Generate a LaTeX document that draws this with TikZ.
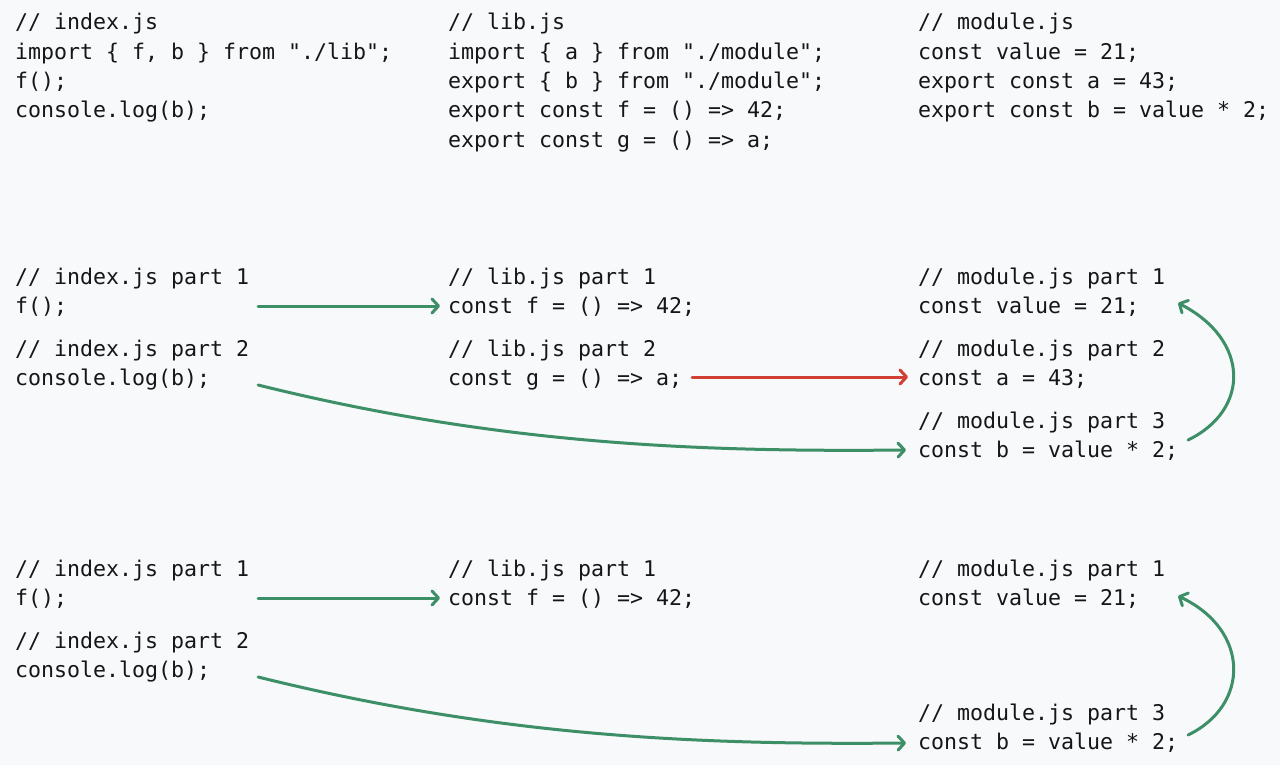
\documentclass[tikz,border=0pt]{standalone}
\usepackage{fontspec}
\setmonofont{DejaVu Sans Mono}
\usetikzlibrary{arrows.meta,calc}
\definecolor{bg}{HTML}{F8F9FB}
\definecolor{ink}{HTML}{161616}
\definecolor{grn}{HTML}{3D8F67}
\definecolor{rd}{HTML}{D23F35}
\begin{document}
\begin{tikzpicture}[x=1pt,y=-1pt,
  code/.style={anchor=base west,inner sep=0pt,outer sep=0pt,text=ink,font=\ttfamily\fontsize{21.6}{29}\selectfont},
  link/.style={line width=3pt,line cap=round,-{Straight Barb[length=6.5pt,width=14pt,round]}}]
\fill[bg] (0,0) rectangle (1280,765);
\useasboundingbox (0,0) rectangle (1280,765);
% row 1
\node[code] (a1) at (15,30) {// index.js};
\node[code] (a2) at (15,59.3) {import \{ f, b \} from "./lib";};
\node[code] (a3) at (15,88.6) {f();};
\node[code] (a4) at (15,117.9) {console.log(b);};
\node[code] (b1) at (448,30) {// lib.js};
\node[code] (b2) at (448,59.3) {import \{ a \} from "./module";};
\node[code] (b3) at (448,88.6) {export \{ b \} from "./module";};
\node[code] (b4) at (448,117.9) {export const f = () => 42;};
\node[code] (b5) at (448,147.2) {export const g = () => a;};
\node[code] (c1) at (918,30) {// module.js};
\node[code] (c2) at (918,59.3) {const value = 21;};
\node[code] (c3) at (918,88.6) {export const a = 43;};
\node[code] (c4) at (918,117.9) {export const b = value * 2;};
% row 2
\node[code] (i1h) at (15,284) {// index.js part 1};
\node[code] (i1c) at (15,313) {f();};
\node[code] (i2h) at (15,356) {// index.js part 2};
\node[code] (i2c) at (15,385) {console.log(b);};
\node[code] (l1h) at (448,284) {// lib.js part 1};
\node[code] (l1c) at (448,313) {const f = () => 42;};
\node[code] (l2h) at (448,356) {// lib.js part 2};
\node[code] (l2c) at (448,385) {const g = () => a;};
\node[code] (m1h) at (918,284) {// module.js part 1};
\node[code] (m1c) at (918,313) {const value = 21;};
\node[code] (m2h) at (918,356) {// module.js part 2};
\node[code] (m2c) at (918,385) {const a = 43;};
\node[code] (m3h) at (918,428) {// module.js part 3};
\node[code] (m3c) at (918,457) {const b = value * 2;};
\draw[link,grn] ($(i1h.east |- i1c.base)+(9,-7)$) -- ($(l1c.base west)+(-8,-7)$);
\draw[link,rd] ($(l2c.base east)+(10,-8)$) -- ($(m2c.base west)+(-10,-8)$);
\draw[link,grn] ($(i2h.east |- i2c.base)+(9,0)$) .. controls +(242,60) and +(-206,2) .. ($(m3c.base west)+(-12,-7)$);
\draw[link,grn] ($(m3c.base east)+(10,-17)$) .. controls +(62,-30) and +(72,37) .. ($(m1c.base east)+(39,-10)$);
% row 3
\node[code] (j1h) at (15,576) {// index.js part 1};
\node[code] (j1c) at (15,605) {f();};
\node[code] (j2h) at (15,648) {// index.js part 2};
\node[code] (j2c) at (15,677) {console.log(b);};
\node[code] (k1h) at (448,576) {// lib.js part 1};
\node[code] (k1c) at (448,605) {const f = () => 42;};
\node[code] (n1h) at (918,576) {// module.js part 1};
\node[code] (n1c) at (918,605) {const value = 21;};
\node[code] (n3h) at (918,720) {// module.js part 3};
\node[code] (n3c) at (918,749) {const b = value * 2;};
\draw[link,grn] ($(j1h.east |- j1c.base)+(9,-7)$) -- ($(k1c.base west)+(-8,-7)$);
\draw[link,grn] ($(j2h.east |- j2c.base)+(9,0)$) .. controls +(242,60) and +(-206,2) .. ($(n3c.base west)+(-12,-6)$);
\draw[link,grn] ($(n3c.base east)+(10,-14)$) .. controls +(62,-30) and +(72,34) .. ($(n1c.base east)+(39,-9)$);
\end{tikzpicture}
\end{document}
